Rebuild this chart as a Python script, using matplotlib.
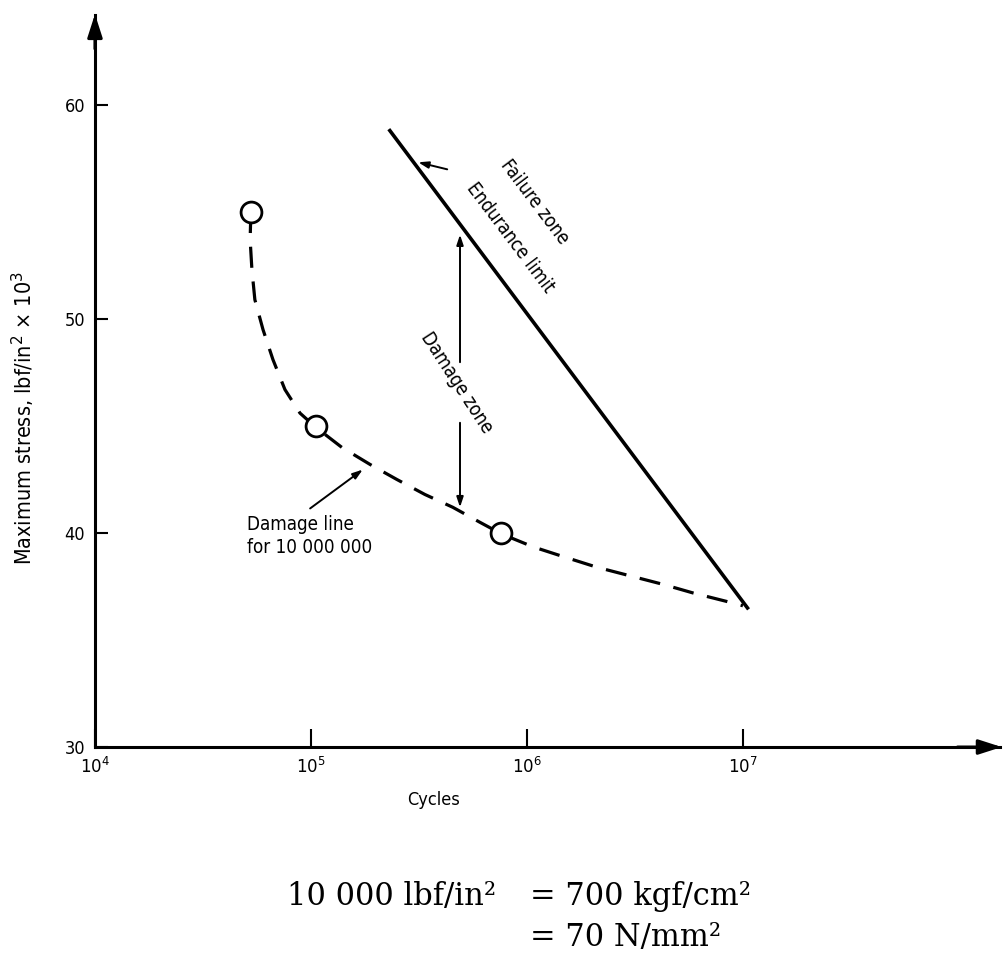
import matplotlib
matplotlib.use("Agg")
import matplotlib.pyplot as plt

# test points (circles)
test_cycles = [5.3e4, 1.05e5, 7.6e5]
test_stress = [55, 45, 40]

# dashed damage line
damage_cycles = [5.27e4, 5.23e4, 5.33e4, 5.5e4, 6.0e4, 6.67e4, 7.58e4, 8.9e4, 1.05e5,
                 1.39e5, 1.88e5, 2.5e5, 3.37e5, 4.54e5, 6.06e5, 7.65e5,
                 1.07e6, 1.47e6, 2.11e6, 3.0e6, 4.27e6, 5.87e6, 8.43e6, 1.0e7]
damage_stress = [55.0, 53.7, 52.3, 50.9, 49.5, 48.1, 46.7, 45.6, 44.95,
                 44.0, 43.2, 42.5, 41.8, 41.2, 40.5, 39.95,
                 39.35, 38.9, 38.4, 38.0, 37.6, 37.2, 36.8, 36.6]

# endurance limit (solid line)
endurance_cycles = [2.32e5, 1.05e7]
endurance_stress = [58.8, 36.5]

y_ticks = [30, 40, 50, 60]
x_ticks = [1e4, 1e5, 1e6, 1e7]
x_ticklabels = [r"$10^4$", r"$10^5$", r"$10^6$", r"$10^7$"]

sans = dict(family="DejaVu Sans", stretch="condensed")
serif = dict(family="DejaVu Serif")

fig = plt.figure(figsize=(10.06, 9.57), dpi=100)
ax = fig.add_axes([0.0944, 0.2194, 0.8996, 0.7649])

ax.plot(damage_cycles, damage_stress, color="black", lw=2.3,
        linestyle=(0, (6.6, 4.3)), zorder=2)
ax.plot(test_cycles, test_stress, "o", ms=15, mfc="white", mec="black", mew=2, zorder=3)
ax.plot(endurance_cycles, endurance_stress, color="black", lw=2.6, zorder=2)

ax.set_xscale("log")
ax.set_xlim(1e4, 1.55e8)
ax.set_ylim(30, 64.2)
ax.set_xticks(x_ticks)
ax.set_xticklabels(x_ticklabels, fontsize=12, **sans)
ax.set_yticks(y_ticks)
ax.set_yticklabels([str(v) for v in y_ticks], fontsize=13, **sans)
ax.minorticks_off()
ax.tick_params(axis="y", direction="in", length=9, width=1.5, pad=7)
ax.tick_params(axis="x", direction="in", length=13, width=1.5, pad=7)

for s in ["top", "right"]:
    ax.spines[s].set_visible(False)
for s in ["left", "bottom"]:
    ax.spines[s].set_linewidth(2.2)

# axis arrowheads
arrow = dict(arrowstyle="-|>,head_length=1.4,head_width=0.45", color="black", lw=2.2)
ax.annotate("", xy=(0, 1.005), xytext=(0, 0.95), xycoords="axes fraction", arrowprops=arrow)
ax.annotate("", xy=(1.005, 0), xytext=(0.95, 0), xycoords="axes fraction", arrowprops=arrow)

fig.text(433 / 1006, 1 - 800 / 957, "Cycles", fontsize=13,
         ha="center", va="center", **sans)
fig.text(23 / 1006, 1 - 418 / 957, "Maximum stress, lbf/in$^2$ × 10$^3$",
         fontsize=15.5, rotation=90, ha="center", va="center", **sans)

# annotations
ax.text(1.09e6, 55.47, "Failure zone", fontsize=13.5, rotation=-53,
        ha="center", va="center", rotation_mode="anchor", **sans)
ax.text(8.34e5, 53.8, "Endurance limit", fontsize=13.5, rotation=-53,
        ha="center", va="center", rotation_mode="anchor", **sans)
ax.text(4.74e5, 47.0, "Damage zone", fontsize=13.5, rotation=-57,
        ha="center", va="center", rotation_mode="anchor", **sans)
ax.text(5.06e4, 40.85, "Damage line\nfor 10 000 000", fontsize=13.5,
        ha="left", va="top", linespacing=1.25, **sans)

small = dict(arrowstyle="-|>,head_length=0.6,head_width=0.2", color="black", lw=1.4)
ax.annotate("", xy=(3.05e5, 57.35), xytext=(4.4e5, 56.96), arrowprops=small)
ax.annotate("", xy=(4.9e5, 54.07), xytext=(4.9e5, 47.85), arrowprops=small)
ax.annotate("", xy=(4.9e5, 41.07), xytext=(4.9e5, 45.28), arrowprops=small)
ax.annotate("", xy=(1.78e5, 43.04), xytext=(9.68e4, 41.07), arrowprops=small)

# unit conversion note
fig.text(287 / 1006, 1 - 905 / 957, "10 000 lbf/in²", fontsize=22,
         ha="left", va="baseline", **serif)
fig.text(530 / 1006, 1 - 905 / 957, "= 700 kgf/cm²", fontsize=22,
         ha="left", va="baseline", **serif)
fig.text(530 / 1006, 1 - 946 / 957, "= 70 N/mm²", fontsize=22,
         ha="left", va="baseline", **serif)

fig.savefig("out.png", dpi=100)
